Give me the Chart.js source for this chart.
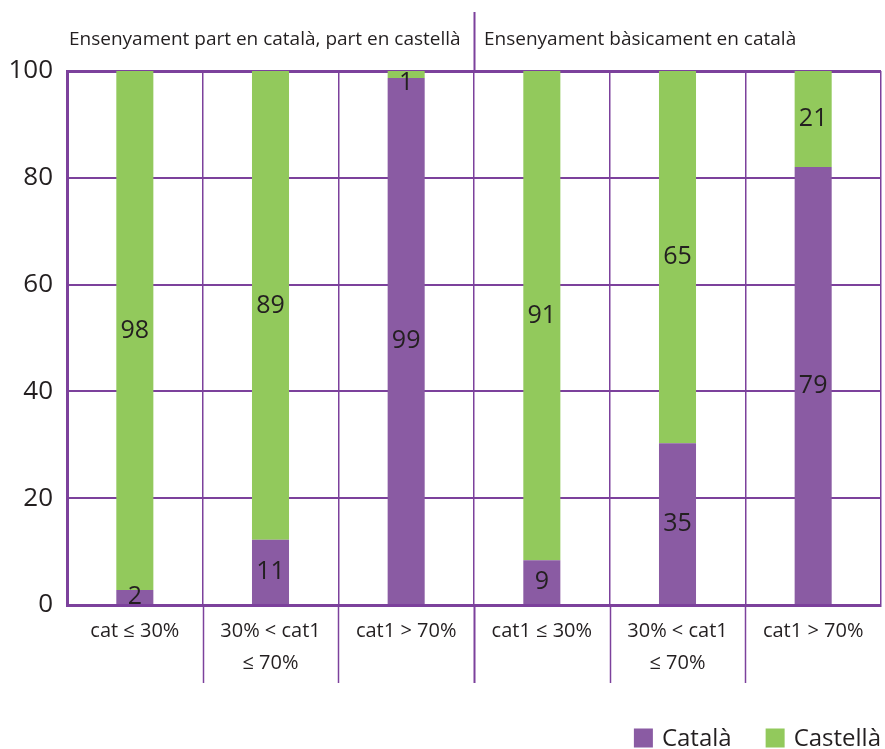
<!DOCTYPE html>
<html>
<head>
<meta charset="utf-8">
<script src="https://cdn.jsdelivr.net/npm/chart.js@4/dist/chart.umd.min.js"></script>
<style>
  html, body { margin: 0; padding: 0; background: #fff; }
  canvas { display: block; }
</style>
</head>
<body>
<canvas id="chart" width="885" height="749"></canvas>
<script>
// ── data ──
const categories = [
  ["cat ≤ 30%"], ["30% < cat1", "≤ 70%"], ["cat1 > 70%"],
  ["cat1 ≤ 30%"], ["30% < cat1", "≤ 70%"], ["cat1 > 70%"]
];
const groups = ["Ensenyament part en català, part en castellà", "Ensenyament bàsicament en català"];
const groupSizes = [3, 3];
// bar segment heights as drawn (stacked to 100)
const catalaBars = [2.8, 12.2, 98.7, 8.4, 30.3, 82.0];
const castellaBars = [97.2, 87.8, 1.3, 91.6, 69.7, 18.0];
// numbers printed on the segments
const catalaLabels = [2, 11, 99, 9, 35, 79];
const castellaLabels = [98, 89, 1, 91, 65, 21];
const seriesNames = ["Català", "Castellà"];

const PURPLE = "#8a5ba3";
const GREEN = "#92c95c";
const LINE = "#7c419c";
const TEXT = "#231f20";
const FONT = "'Open Sans', sans-serif";

Chart.defaults.font.family = FONT;
Chart.defaults.color = TEXT;

// group headers, separators, segment numbers and legend
const decor = {
  id: "decor",
  afterDatasetsDraw(chart) {
    const { ctx, chartArea: a, scales: { x } } = chart;
    ctx.save();

    // segment numbers
    ctx.font = "25px " + FONT;
    ctx.fillStyle = TEXT;
    ctx.textAlign = "center";
    ctx.textBaseline = "middle";
    chart.data.datasets.forEach((ds, di) => {
      chart.getDatasetMeta(di).data.forEach((bar, i) => {
        const cy = (bar.y + bar.base) / 2;
        ctx.fillText(String(ds.valueLabels[i]), bar.x, Math.max(cy, a.top + 12));
      });
    });

    // separators below the axis, and the group divider
    const edge = i => (x.getPixelForValue(i - 1) + x.getPixelForValue(i)) / 2;
    ctx.strokeStyle = LINE;
    let groupEnd = 0;
    const groupBounds = groupSizes.map(n => (groupEnd += n));
    for (let i = 1; i < categories.length; i++) {
      const px = Math.round(edge(i)) + 0.5;
      const isGroup = groupBounds.includes(i);
      ctx.lineWidth = isGroup ? 2 : 1.5;
      ctx.beginPath();
      if (isGroup) {
        ctx.moveTo(px, 12);
        ctx.lineTo(px, a.top);
      }
      ctx.moveTo(px, a.bottom);
      ctx.lineTo(px, a.bottom + 78);
      ctx.stroke();
    }

    // group headers
    ctx.font = "19px " + FONT;
    ctx.textAlign = "left";
    let start = 0;
    groups.forEach((g, gi) => {
      const left = start === 0 ? a.left + 2 : edge(start) + 10;
      ctx.fillText(g, left, 40);
      start += groupSizes[gi];
    });

    // legend, right aligned at the bottom
    ctx.font = "24px " + FONT;
    const box = 19, gapText = 9, gapItem = 34;
    const items = chart.data.datasets.map(ds => ({ text: ds.label, color: ds.backgroundColor, w: ctx.measureText(ds.label).width }));
    const total = items.reduce((s, it) => s + box + gapText + it.w, 0) + gapItem * (items.length - 1);
    let lx = a.right - total;
    const ly = 738;
    items.forEach(it => {
      ctx.fillStyle = it.color;
      ctx.fillRect(lx, ly - box / 2, box, box);
      ctx.fillStyle = TEXT;
      ctx.fillText(it.text, lx + box + gapText, ly + 1);
      lx += box + gapText + it.w + gapItem;
    });

    ctx.restore();
  }
};

new Chart(document.getElementById("chart"), {
  type: "bar",
  data: {
    labels: categories,
    datasets: [
      { label: seriesNames[0], data: catalaBars, valueLabels: catalaLabels, backgroundColor: PURPLE },
      { label: seriesNames[1], data: castellaBars, valueLabels: castellaLabels, backgroundColor: GREEN },
    ],
  },
  options: {
    responsive: false,
    animation: false,
    layout: { padding: { top: 71, right: 4, left: 0, bottom: 0 } },
    datasets: { bar: { categoryPercentage: 1, barPercentage: 0.273 } },
    scales: {
      x: {
        stacked: true,
        afterFit: s => { s.height = 144; },
        grid: { offset: true, color: LINE, lineWidth: 1.5, drawTicks: false },
        border: { color: LINE, width: 3 },
        ticks: { font: { size: 20, lineHeight: 1.6 }, padding: 10, color: TEXT, maxRotation: 0 },
      },
      y: {
        stacked: true,
        min: 0,
        max: 100,
        afterFit: s => { s.width = 67; },
        grid: { color: LINE, lineWidth: c => (c.tick && c.tick.value === 100 ? 3 : 2), drawTicks: false },
        border: { color: LINE, width: 3 },
        ticks: { stepSize: 20, font: { size: 26 }, padding: 14, color: TEXT },
      },
    },
    plugins: {
      legend: { display: false },
      tooltip: { enabled: false },
    },
  },
  plugins: [decor],
});
</script>
</body>
</html>
